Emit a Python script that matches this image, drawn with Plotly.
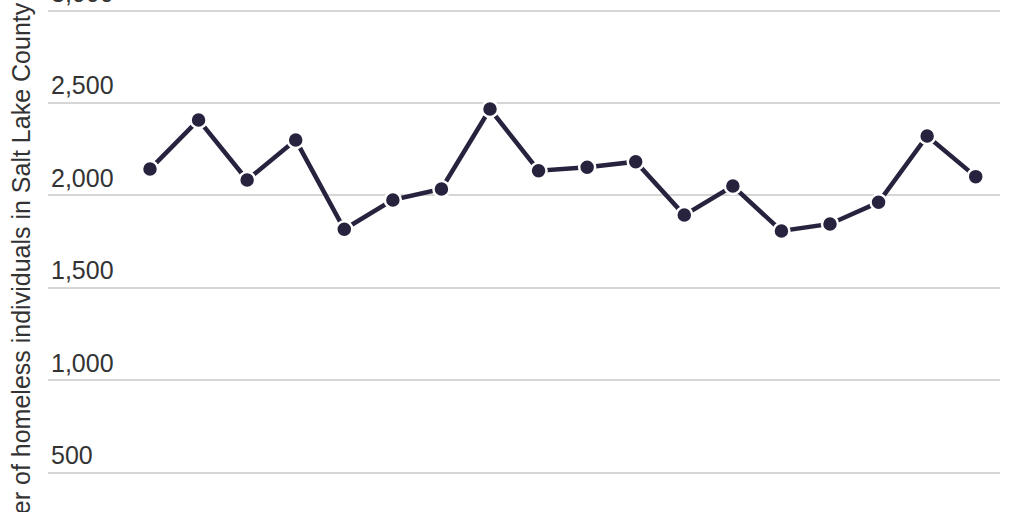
import plotly.graph_objects as go

C = {'linea': '#27233f', 'grid': '#d6d6d6', 'texto': '#333333'}

years = list(range(2005, 2023))
homeless = [2143, 2409, 2084, 2300, 1817, 1976, 2035, 2468, 2134,
            2153, 2183, 1894, 2051, 1808, 1846, 1963, 2322, 2102]
y_ticks = [500, 1000, 1500, 2000, 2500, 3000]
y_title = 'Number of homeless individuals in Salt Lake County'

fig = go.Figure(go.Scatter(
    x=years, y=homeless, mode='lines+markers',
    line=dict(color=C['linea'], width=4.5),
    marker=dict(size=16, color=C['linea'], line=dict(color='white', width=2.5)),
    hovertemplate='%{x}: %{y:,.0f}<extra></extra>',
))

fig.update_layout(
    width=1024, height=512,
    margin=dict(l=48, r=24, t=0, b=0),
    paper_bgcolor='white', plot_bgcolor='white',
    font=dict(family='Liberation Sans, Arial, sans-serif', size=25, color=C['texto']),
    showlegend=False,
    xaxis=dict(range=[2002.9, 2022.5], showgrid=False, showticklabels=False,
               zeroline=False, showline=False, automargin=False),
    yaxis=dict(range=[287, 3058], tickvals=y_ticks, tickformat=',',
               ticklabelposition='inside top', ticklabeloverflow='allow',
               tickfont=dict(size=25, color=C['texto']),
               gridcolor=C['grid'], gridwidth=1.5, zeroline=False, showline=False,
               automargin=False),
    annotations=[dict(text=y_title, textangle=-90, xref='paper', yref='paper',
                      x=0, y=0.43, xanchor='center', yanchor='middle', xshift=-27,
                      showarrow=False, font=dict(size=25, color=C['texto']))],
)

# sin margen del body para que el gráfico empiece en (0, 0)
fig.write_html('out.html', config={'displayModeBar': False},
               post_script="document.body.style.margin='0px';")
